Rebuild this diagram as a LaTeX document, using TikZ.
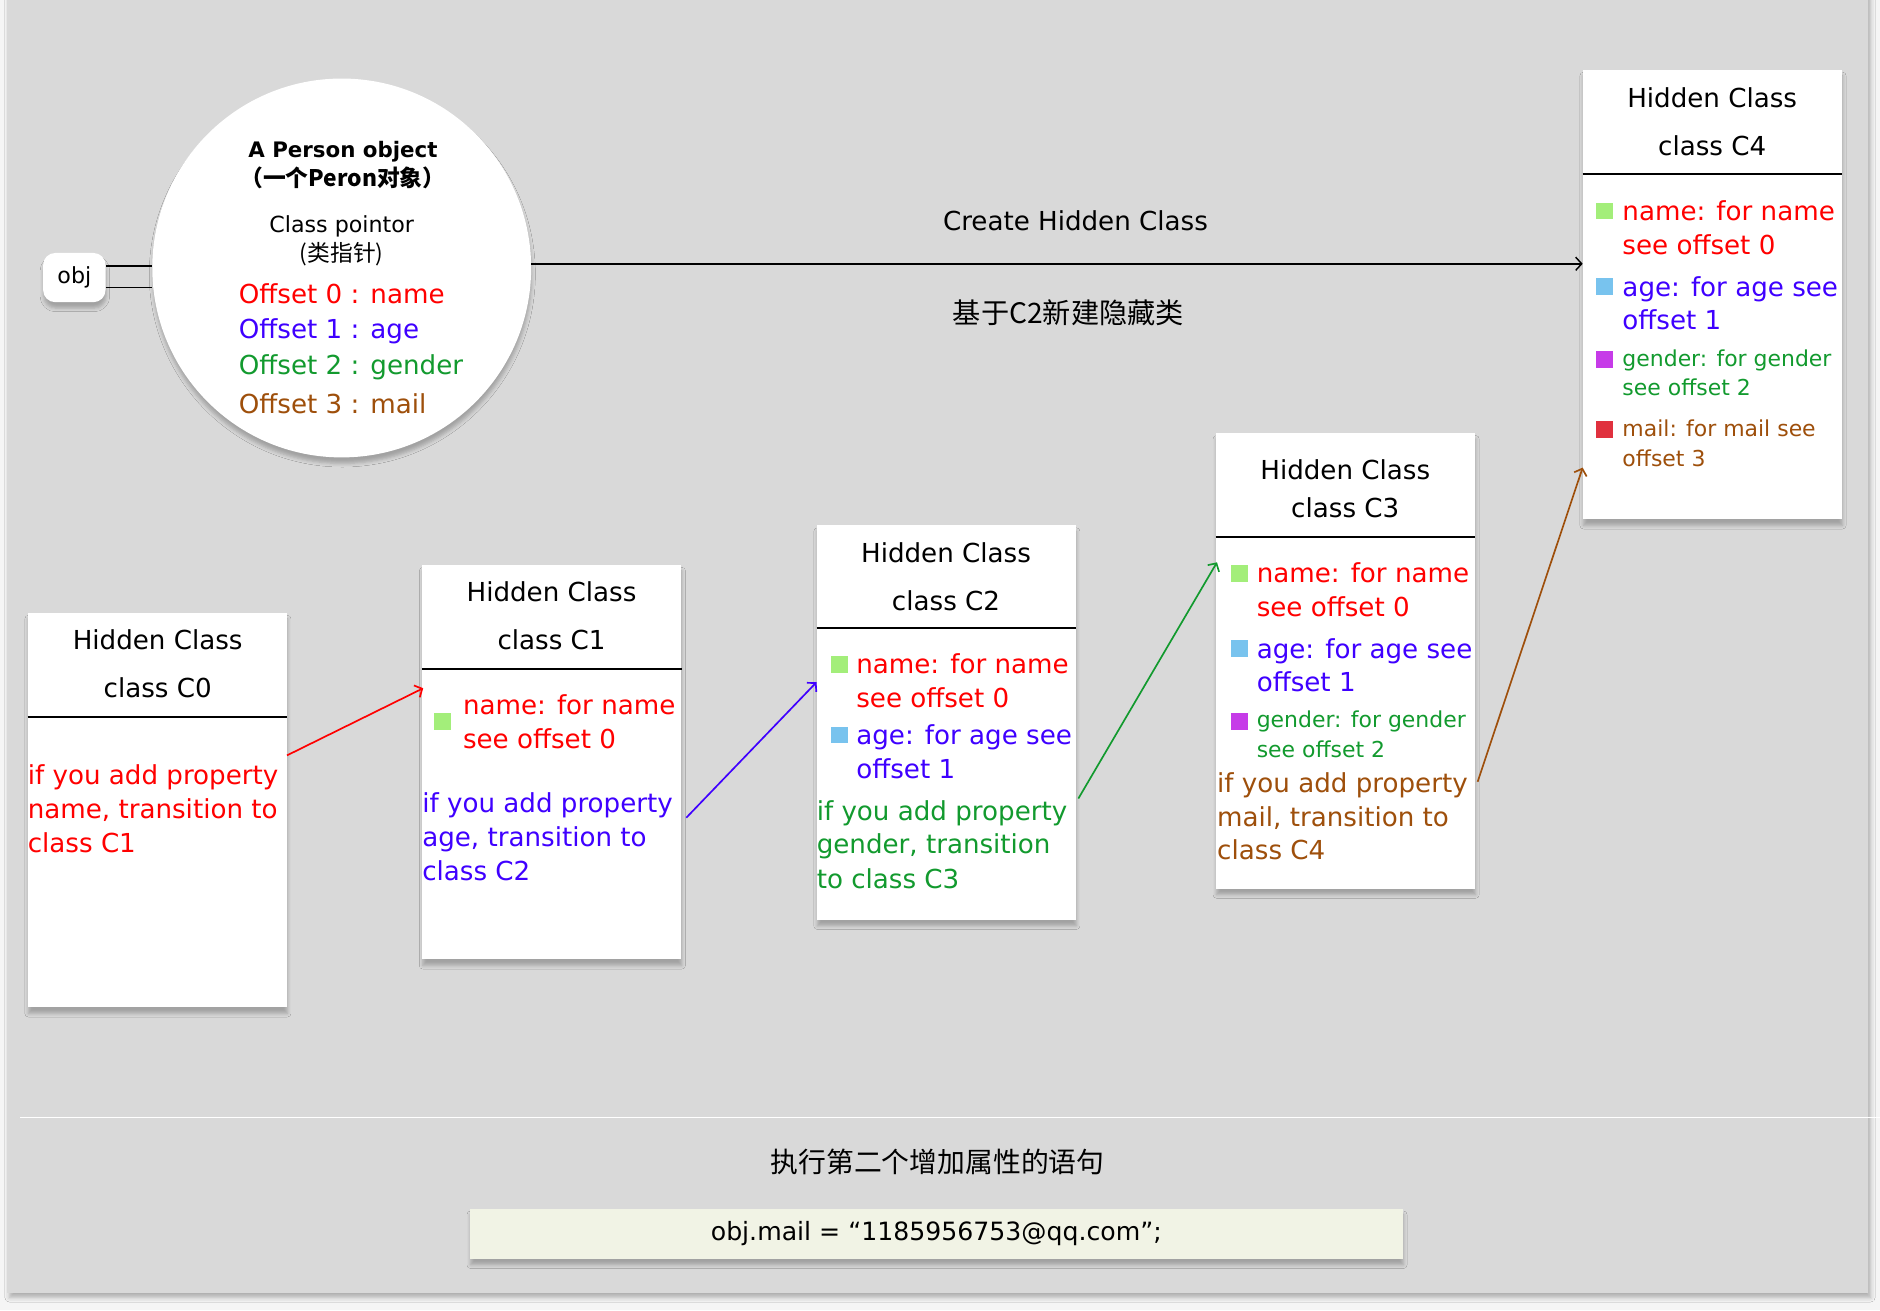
\documentclass[tikz,border=0pt]{standalone}
\usepackage{fontspec}
\setmainfont{DejaVu Sans}
\newfontfamily\cjk{Noto Sans CJK SC}
\usetikzlibrary{arrows.meta,shadows.blur,calc}
\definecolor{outerbg}{HTML}{F5F5F5}
\definecolor{panelbg}{HTML}{D9D9D9}
\definecolor{tred}{HTML}{FF0000}
\definecolor{tblue}{HTML}{3F00FF}
\definecolor{tgreen}{HTML}{129A2E}
\definecolor{tbrown}{HTML}{9E4F0B}
\definecolor{sqgreen}{HTML}{A3EE7A}
\definecolor{sqblue}{HTML}{78C3EE}
\definecolor{sqmag}{HTML}{C63BE8}
\definecolor{sqred}{HTML}{E0313E}
\definecolor{codebg}{HTML}{F1F3E5}
\tikzset{
  shd/.style={blur shadow={shadow xshift=0.5pt, shadow yshift=-5pt, shadow opacity=25, shadow blur radius=3pt}},
  tx/.style={inner sep=0pt, text height=16pt, text depth=0pt, anchor=west, font=\fontsize{21.8}{26}\selectfont},
  txs/.style={inner sep=0pt, text height=13.5pt, text depth=0pt, anchor=west, font=\fontsize{18.3}{22}\selectfont},
  txc/.style={tx, anchor=center},
  hc/.style={fill=white, minimum width=216, minimum height=329, anchor=north west, inner sep=0pt, shd},
  sq/.style={minimum size=14, inner sep=0pt},
  arr/.style={line width=1.4pt, -{Straight Barb[length=5pt,width=11pt]}},
  divl/.style={line width=2pt, black},
}
\begin{document}
\begin{tikzpicture}[x=1pt,y=-1pt]
\useasboundingbox (0,0) rectangle (1568,1092.6);
\fill[outerbg] (0,0) rectangle (1568,1092.6);
\path[fill=panelbg, blur shadow={shadow xshift=2pt, shadow yshift=-4pt, shadow opacity=30, shadow blur radius=4pt}] (6,-30) rectangle (1558,1078);
\draw[white, line width=1.5pt] (17,932) -- (1580,932);

% object circle
\node[circle, fill=white, minimum size=316, inner sep=0pt, shd] (circ) at (285,223.5) {};
\node[fill=white, rounded corners=10pt, minimum width=52, minimum height=41, inner sep=0pt, shd, font=\fontsize{18.5}{22}\selectfont] (obj) at (62,231.5) {obj};
\draw[line width=1.2pt] (obj.east |- 0,222) -- (circ.west |- 0,222);
\draw[line width=1.2pt] (obj.east |- 0,240) -- (circ.west |- 0,240);
\node[txc, font=\bfseries\fontsize{17.8}{22}\selectfont, text height=13pt] (p1) at (286,125) {A Person object};
\node[txc, font=\cjk\bfseries\fontsize{19}{22}\selectfont, text height=13pt] (p2) at (286,149) {（一个Peron对象）};
\node[txc, font=\fontsize{18.5}{22}\selectfont, text height=13.5pt] (p3) at (285,187) {Class pointor};
\node[txc, font=\cjk\fontsize{19}{22}\selectfont, text height=13.5pt] (p4) at (285,211) {(类指针)};
\node[tx, text=tred] (o0) at (199,245) {Offset 0 : name};
\node[tx, text=tblue] (o1) at (199,274) {Offset 1 : age};
\node[tx, text=tgreen] (o2) at (199,304) {Offset 2 : gender};
\node[tx, text=tbrown] (o3) at (199,337) {Offset 3 : mail};

% C0
\node[hc] (c0) at (23,511) {};
\node[txc] (c0h) at (131.5,534) {Hidden Class};
\node[txc] (c0n) at (131.5,574) {class C0};
\draw[divl] ($(c0.north west)+(0,87)$) -- ($(c0.north east)+(0,87)$);
\node[tx, text=tred] (c0a) at (23,646) {if you add property};
\node[tx, text=tred] (c0b) at (23,675) {name, transition to};
\node[tx, text=tred] (c0c) at (23,703) {class C1};

% C1
\node[hc] (c1) at (352,471) {};
\node[txc] (c1h) at (460,494) {Hidden Class};
\node[txc] (c1n) at (460,534) {class C1};
\draw[divl] ($(c1.north west)+(0,87)$) -- ($(c1.north east)+(0,87)$);
\node[sq, fill=sqgreen] (c1s1) at (369,602) {};
\node[tx, text=tred] (c1a) at (386,588) {name: for name};
\node[tx, text=tred] (c1b) at (386,616) {see offset 0};
\node[tx, text=tblue] (c1c) at (352,670) {if you add property};
\node[tx, text=tblue] (c1d) at (352,698) {age, transition to};
\node[tx, text=tblue] (c1e) at (352,726) {class C2};

% C2
\node[hc] (c2) at (681,438) {};
\node[txc] (c2h) at (789,461) {Hidden Class};
\node[txc] (c2n) at (789,501) {class C2};
\draw[divl] ($(c2.north west)+(0,86)$) -- ($(c2.north east)+(0,86)$);
\node[sq, fill=sqgreen] (c2s1) at (700,554) {};
\node[sq, fill=sqblue] (c2s2) at (700,613) {};
\node[tx, text=tred] (c2a) at (714,554) {name: for name};
\node[tx, text=tred] (c2b) at (714,582) {see offset 0};
\node[tx, text=tblue] (c2c) at (714,613) {age: for age see};
\node[tx, text=tblue] (c2d) at (714,641) {offset 1};
\node[tx, text=tgreen] (c2e) at (681,676) {if you add property};
\node[tx, text=tgreen] (c2f) at (681,704) {gender, transition};
\node[tx, text=tgreen] (c2g) at (681,733) {to class C3};

% C3
\node[hc, minimum height=380] (c3) at (1014,361) {};
\node[txc] (c3h) at (1122,392) {Hidden Class};
\node[txc] (c3n) at (1122,424) {class C3};
\draw[divl] ($(c3.north west)+(0,87)$) -- ($(c3.north east)+(0,87)$);
\node[sq, fill=sqgreen] (c3s1) at (1034,478) {};
\node[sq, fill=sqblue] (c3s2) at (1034,541) {};
\node[sq, fill=sqmag] (c3s3) at (1034,602) {};
\node[tx, text=tred] (c3a) at (1048,478) {name: for name};
\node[tx, text=tred] (c3b) at (1048,506) {see offset 0};
\node[tx, text=tblue] (c3c) at (1048,541) {age: for age see};
\node[tx, text=tblue] (c3d) at (1048,569) {offset 1};
\node[txs, text=tgreen] (c3e) at (1048,600) {gender: for gender};
\node[txs, text=tgreen] (c3f) at (1048,625) {see offset 2};
\node[tx, text=tbrown] (c3g) at (1015,653) {if you add property};
\node[tx, text=tbrown] (c3h2) at (1015,681) {mail, transition to};
\node[tx, text=tbrown] (c3i) at (1015,709) {class C4};

% C4
\node[hc, minimum height=375] (c4) at (1320,58) {};
\node[txc] (c4h) at (1428,82) {Hidden Class};
\node[txc] (c4n) at (1428,122) {class C4};
\draw[divl] ($(c4.north west)+(0,87)$) -- ($(c4.north east)+(0,87)$);
\node[sq, fill=sqgreen] (c4s1) at (1338,176) {};
\node[sq, fill=sqblue] (c4s2) at (1338,239) {};
\node[sq, fill=sqmag] (c4s3) at (1338,300) {};
\node[sq, fill=sqred] (c4s4) at (1338,358) {};
\node[tx, text=tred] (c4a) at (1353,176) {name: for name};
\node[tx, text=tred] (c4b) at (1353,204) {see offset 0};
\node[tx, text=tblue] (c4c) at (1353,239) {age: for age see};
\node[tx, text=tblue] (c4d) at (1353,267) {offset 1};
\node[txs, text=tgreen] (c4e) at (1353,299) {gender: for gender};
\node[txs, text=tgreen] (c4f) at (1353,323) {see offset 2};
\node[txs, text=tbrown] (c4g) at (1353,357) {mail: for mail see};
\node[txs, text=tbrown] (c4h2) at (1353,382) {offset 3};

% create arrow
\draw[arr, line width=1.2pt] (circ.east |- 0,220) -- (c4.west |- 0,220);
\node[txc] (lab1) at (897,184) {Create Hidden Class};
\node[txc, font=\cjk\fontsize{23.5}{26}\selectfont] (lab2) at (891,262) {基于C2新建隐藏类};

% transitions
\draw[arr, tred] ($(c0.north east)+(0,119)$) -- ($(c1.north west)+(1,103)$);
\draw[arr, tblue] ($(c1.north east)+(4,211)$) -- ($(c2.north west)+(0,131)$);
\draw[arr, tgreen] ($(c2.north east)+(2,228)$) -- ($(c3.north west)+(1,108)$);
\draw[arr, tbrown] ($(c3.north east)+(2,291)$) -- ($(c4.north west)+(0,332)$);

% bottom
\node[txc, font=\cjk\fontsize{23.2}{26}\selectfont] (exec) at (782,970) {执行第二个增加属性的语句};
\node[fill=codebg, minimum width=778, minimum height=42, inner sep=0pt, shd, font=\fontsize{21}{24}\selectfont] (code) at (781,1029) {obj.mail = “1185956753@qq.com”;};
\end{tikzpicture}
\end{document}
